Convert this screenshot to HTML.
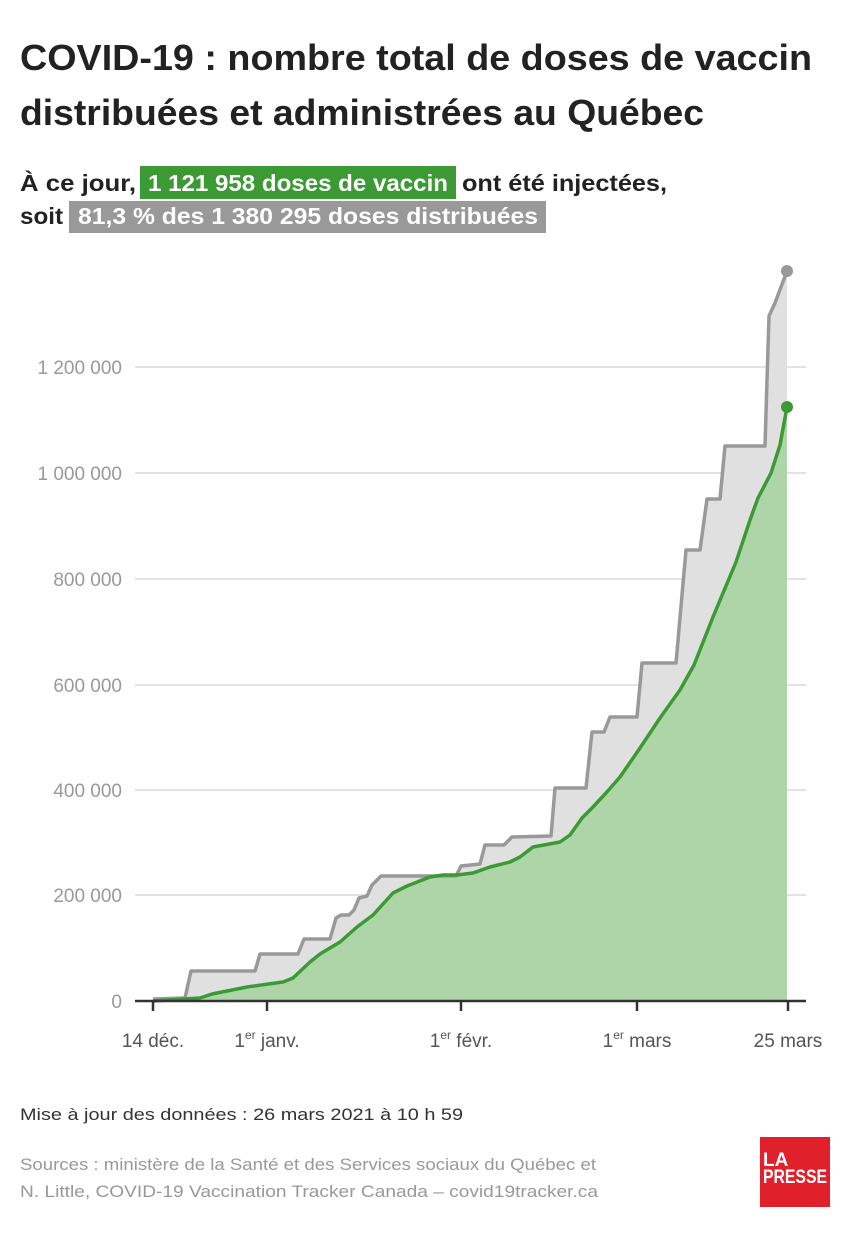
<!DOCTYPE html>
<html><head><meta charset="utf-8"><style>
html,body{margin:0;padding:0;background:#fff;}
svg{display:block;font-family:"Liberation Sans",sans-serif;}
</style></head><body>
<svg width="850" height="1240" viewBox="0 0 850 1240" xmlns="http://www.w3.org/2000/svg">
<text x="20" y="70" font-size="36" font-weight="bold" fill="#222" textLength="792" lengthAdjust="spacingAndGlyphs">COVID-19 : nombre total de doses de vaccin</text>
<text x="20" y="125" font-size="36" font-weight="bold" fill="#222" textLength="684" lengthAdjust="spacingAndGlyphs">distribuées et administrées au Québec</text>
<text x="20" y="191" font-size="23" font-weight="bold" fill="#222" textLength="116" lengthAdjust="spacingAndGlyphs">À ce jour,</text>
<rect x="140" y="166" width="316" height="33" fill="#3c9a35"/>
<text x="148" y="191" font-size="23" font-weight="bold" fill="#fff" textLength="300" lengthAdjust="spacingAndGlyphs">1 121 958 doses de vaccin</text>
<text x="462" y="191" font-size="23" font-weight="bold" fill="#222" textLength="205" lengthAdjust="spacingAndGlyphs">ont été injectées,</text>
<text x="20" y="224" font-size="23" font-weight="bold" fill="#222" textLength="43" lengthAdjust="spacingAndGlyphs">soit</text>
<rect x="69" y="201" width="477" height="32" fill="#999"/>
<text x="78" y="224" font-size="23" font-weight="bold" fill="#fff" textLength="460" lengthAdjust="spacingAndGlyphs">81,3 % des 1 380 295 doses distribuées</text>

<g stroke="#e3e3e3" stroke-width="2">
<line x1="135" y1="367" x2="806" y2="367"/><line x1="135" y1="473" x2="806" y2="473"/>
<line x1="135" y1="579" x2="806" y2="579"/><line x1="135" y1="685" x2="806" y2="685"/>
<line x1="135" y1="790" x2="806" y2="790"/><line x1="135" y1="895" x2="806" y2="895"/>
</g>
<g font-size="19" fill="#999" text-anchor="end">
<text x="122" y="374">1 200 000</text><text x="122" y="480">1 000 000</text>
<text x="122" y="586">800 000</text><text x="122" y="692">600 000</text>
<text x="122" y="797">400 000</text><text x="122" y="902">200 000</text>
<text x="122" y="1008">0</text>
</g>
<path d="M153,999 L185,998 L191,971 L255,971 L260,954 L298,954 L304,939 L330,939 L336,918 L341,915 L349,915 L354,910 L359,898 L367,896 L372,885 L381,876 L456,876 L461,866 L480,864 L485,845 L504,845 L512,837 L551,836 L555,788 L586,788 L592,732 L604,732 L610,717 L637,717 L642,663 L676,663 L686,550 L700,550 L707,499 L720,499 L725,446 L765,446 L769,316 L775,303 L787,271 L787,1001 L153,1001 Z" fill="#e0e0e0"/>
<path d="M153,1001 L200,998 L212,994 L247,987 L283,982 L293,978 L310,962 L320,954 L340,942 L357,927 L373,915 L393,893 L407,886 L430,877 L443,875 L457,875 L473,873 L490,867 L510,862 L520,857 L533,847 L560,842 L570,835 L582,818 L592,808 L606,793 L620,777 L640,748 L660,718 L680,690 L694,665 L713,617 L736,562 L750,520 L758,498 L771,473 L780,445 L787,407 L787,1001 Z" fill="#aed5a7"/>
<path d="M153,999 L185,998 L191,971 L255,971 L260,954 L298,954 L304,939 L330,939 L336,918 L341,915 L349,915 L354,910 L359,898 L367,896 L372,885 L381,876 L456,876 L461,866 L480,864 L485,845 L504,845 L512,837 L551,836 L555,788 L586,788 L592,732 L604,732 L610,717 L637,717 L642,663 L676,663 L686,550 L700,550 L707,499 L720,499 L725,446 L765,446 L769,316 L775,303 L787,271" fill="none" stroke="#999" stroke-width="3.5" stroke-linejoin="round"/>
<path d="M153,1001 L200,998 L212,994 L247,987 L283,982 L293,978 L310,962 L320,954 L340,942 L357,927 L373,915 L393,893 L407,886 L430,877 L443,875 L457,875 L473,873 L490,867 L510,862 L520,857 L533,847 L560,842 L570,835 L582,818 L592,808 L606,793 L620,777 L640,748 L660,718 L680,690 L694,665 L713,617 L736,562 L750,520 L758,498 L771,473 L780,445 L787,407" fill="none" stroke="#3c9a35" stroke-width="3.5" stroke-linejoin="round"/>
<circle cx="787" cy="271" r="6" fill="#999"/>
<circle cx="787" cy="407" r="6" fill="#3c9a35"/>
<line x1="135" y1="1001" x2="806" y2="1001" stroke="#333" stroke-width="2.5"/>
<g stroke="#333" stroke-width="2.5">
<line x1="153" y1="1001" x2="153" y2="1011"/><line x1="267" y1="1001" x2="267" y2="1011"/>
<line x1="461" y1="1001" x2="461" y2="1011"/><line x1="637" y1="1001" x2="637" y2="1011"/>
<line x1="788" y1="1001" x2="788" y2="1011"/>
</g>
<g font-size="19" fill="#555" text-anchor="middle">
<text x="153" y="1047">14 déc.</text>
<text x="267" y="1047">1<tspan font-size="12" dy="-8">er</tspan><tspan dy="8"> janv.</tspan></text>
<text x="461" y="1047">1<tspan font-size="12" dy="-8">er</tspan><tspan dy="8"> févr.</tspan></text>
<text x="637" y="1047">1<tspan font-size="12" dy="-8">er</tspan><tspan dy="8"> mars</tspan></text>
<text x="788" y="1047">25 mars</text>
</g>
<text x="20" y="1120" font-size="17" fill="#333" textLength="443" lengthAdjust="spacingAndGlyphs">Mise à jour des données : 26 mars 2021 à 10 h 59</text>
<text x="20" y="1170" font-size="17" fill="#999" textLength="576" lengthAdjust="spacingAndGlyphs">Sources : ministère de la Santé et des Services sociaux du Québec et</text>
<text x="20" y="1197" font-size="17" fill="#999" textLength="578" lengthAdjust="spacingAndGlyphs">N. Little, COVID-19 Vaccination Tracker Canada – covid19tracker.ca</text>
<rect x="760" y="1137" width="70" height="70" fill="#e0202a"/>
<text x="763" y="1166" font-size="19" font-weight="bold" fill="#fff">LA</text>
<text x="763" y="1183" font-size="19" font-weight="bold" fill="#fff" textLength="64" lengthAdjust="spacingAndGlyphs">PRESSE</text>
</svg>
</body></html>
